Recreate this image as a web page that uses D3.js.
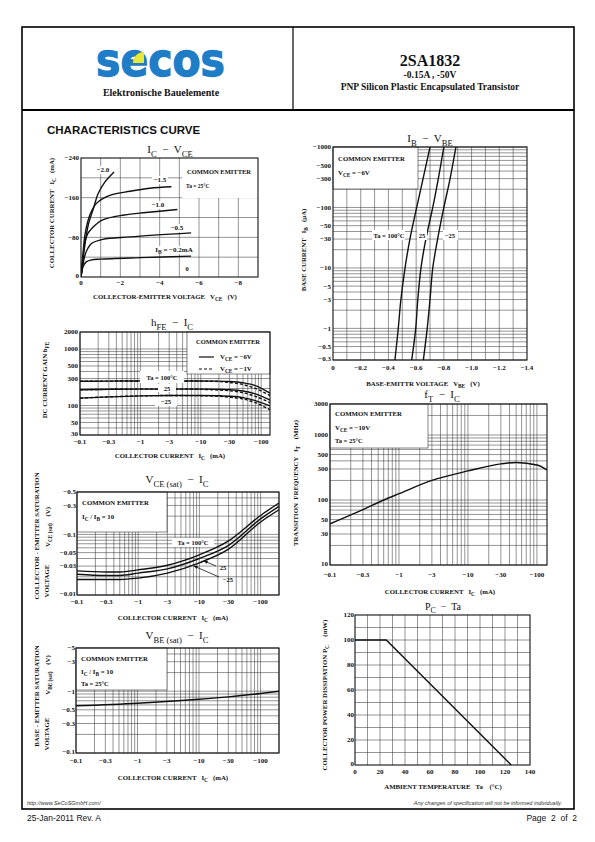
<!DOCTYPE html>
<html><head><meta charset="utf-8">
<script src="https://cdn.jsdelivr.net/npm/d3@7"></script>
<style>body{margin:0;background:#fff} svg{display:block} text{white-space:pre}</style>
</head><body>
<svg id="page" width="595" height="842"></svg>
<script>
// ---------------- DATA ----------------
// IC - VCE (magnitudes; VCE V, IC mA)
const ivLabels = ["−2.0", "−1.5", "−1.0", "−0.5", "IB"];
const ivIB20 = [[0,0],[0.1,35],[0.2,65],[0.37,105],[0.63,138],[0.88,169],[1.22,192],[1.68,212]];
const ivIB15 = [[0,0],[0.1,45],[0.2,85],[0.45,125],[0.8,149],[1.5,165],[2.5,173],[3.5,179],[4.6,182]];
const ivIB10 = [[0,0],[0.1,40],[0.2,71],[0.35,88],[0.55,98],[1.1,115],[2.2,125],[3.3,130],[4.9,136]];
const ivIB05 = [[0,0],[0.1,25],[0.2,44],[0.35,58],[0.55,68],[1.1,76],[2.5,81],[5.6,89]];
const ivIB02 = [[0,0],[0.1,20],[0.25,30],[0.5,34],[1,36],[3,39],[5.6,42]];
const ivXTicks = [0,2,4,6,8];
const ivYTicks = [0,80,160,240];

// hFE - IC
const hfeIc   = [0.1,0.3,1,3,10,20,30,50,80,140];
const hfe100a = [268,270,272,272,272,270,266,252,225,165];
const hfe100b = [268,270,272,272,270,265,255,235,200,150];
const hfe25a  = [190,193,195,195,195,193,190,180,160,125];
const hfe25b  = [190,193,195,195,193,188,182,168,145,112];
const hfem25a = [135,142,148,150,150,149,146,138,122,98];
const hfem25b = [135,142,148,150,149,145,140,130,112,84];
const hfeXTicks = [0.1,0.3,1,3,10,30,100];
const hfeYTicks = [30,50,100,300,500,1000,2000];

// VCE(sat) - IC
const vceIc   = [0.1,0.3,0.5,1,3,10,30,100,200];
const vce100  = [0.025,0.024,0.024,0.026,0.031,0.046,0.078,0.205,0.33];
const vce25   = [0.022,0.021,0.021,0.023,0.027,0.040,0.066,0.18,0.29];
const vcem25  = [0.018,0.018,0.018,0.019,0.023,0.034,0.057,0.16,0.255];
const vceYTicks = [0.01,0.03,0.05,0.1,0.3,0.5];

// VBE(sat) - IC
const vbsIc  = [0.1,1,10,30,100,200];
const vbsVal = [0.58,0.64,0.74,0.81,0.92,1.0];
const vbsYTicks = [0.1,0.3,0.5,1,3,5];

// IB - VBE
const ibLevels = [0.3,1,3,10,30,100,300,1000];
const vbe100   = [0.447,0.471,0.49,0.52,0.555,0.604,0.65,0.70];
const vbe25    = [0.568,0.597,0.612,0.635,0.67,0.72,0.76,0.80];
const vbem25   = [0.652,0.68,0.70,0.72,0.755,0.80,0.845,0.887];
const ibXTicks = [0,0.2,0.4,0.6,0.8,1.0,1.2,1.4];
const ibYTicks = [0.3,0.5,1,3,5,10,30,50,100,300,500,1000];

// fT - IC
const ftIc  = [0.1,0.3,0.6,1,3,10,30,50,100,140];
const ftVal = [43,71,100,125,200,280,360,378,345,290];
const ftYTicks = [10,30,50,100,300,500,1000,3000];

// PC - Ta
const pcTa = [0,25,125];
const pcVal = [100,100,0];
const pcXTicks = [0,20,40,60,80,100,120,140];
const pcYTicks = [0,20,40,60,80,100,120];

// ---------------- HELPERS ----------------
const svg = d3.select('#page');
const SERIF = "'Liberation Serif','Times New Roman',serif";
const SANS = "'Liberation Sans',Arial,sans-serif";
const neg = v => v === 0 ? "0" : "−" + v;

function logAll(lo, hi) {
  const out = [];
  for (let e = Math.floor(Math.log10(lo)) ; e <= Math.ceil(Math.log10(hi)); e++)
    for (let m = 1; m < 10; m++) { const v = m * Math.pow(10, e); if (v >= lo*0.999 && v <= hi*1.001) out.push(+v.toPrecision(6)); }
  return out;
}
function rich(sel, parts, fs) {
  let shift = 0;
  parts.forEach(p => {
    const s = typeof p === 'string' ? p : p[0];
    const sub = typeof p !== 'string';
    const off = sub ? fs*0.32 : 0;
    const t = sel.append('tspan').text(s).attr('dy', off - shift);
    if (sub) t.attr('font-size', fs*0.78);
    shift = off;
  });
  return sel;
}
function txt(g, x, y, parts, o = {}) {
  const fs = o.fs || 7;
  const t = g.append('text').attr('x', x).attr('y', y)
    .attr('font-family', o.ff || SERIF).attr('font-size', fs)
    .attr('font-weight', o.fw || 'bold').attr('fill', o.fill || '#111')
    .attr('text-anchor', o.anchor || 'middle');
  if (o.ls) t.attr('letter-spacing', o.ls);
  if (o.italic) t.attr('font-style', 'italic');
  if (o.rot) t.attr('transform', `rotate(-90,${x},${y})`);
  if (o.tl) t.attr('textLength', o.tl).attr('lengthAdjust', 'spacingAndGlyphs');
  rich(t, Array.isArray(parts) ? parts : [parts], fs);
  return t;
}
let clipId = 0;
function panel(P, xs, ys, xGrid, yGrid) {
  const g = svg.append('g');
  const id = 'c' + (clipId++);
  g.append('clipPath').attr('id', id).append('rect')
    .attr('x', P.l).attr('y', P.t).attr('width', P.r - P.l).attr('height', P.b - P.t);
  const grid = g.append('g').attr('stroke', '#3a3a3a').attr('stroke-width', 0.55);
  grid.selectAll(null).data(xGrid).join('line')
    .attr('x1', d => xs(d)).attr('x2', d => xs(d)).attr('y1', P.t).attr('y2', P.b);
  grid.selectAll(null).data(yGrid).join('line')
    .attr('y1', d => ys(d)).attr('y2', d => ys(d)).attr('x1', P.l).attr('x2', P.r);
  const over = g.append('g');
  const plot = g.append('g').attr('clip-path', `url(#${id})`);
  const top = g.append('g');
  top.append('rect').attr('x', P.l).attr('y', P.t).attr('width', P.r - P.l).attr('height', P.b - P.t)
    .attr('fill', 'none').attr('stroke', '#111').attr('stroke-width', 1.1);
  return { g, over, plot, top };
}
function box(g, x0, y0, x1, y1, stroke) {
  g.append('rect').attr('x', x0).attr('y', y0).attr('width', x1 - x0).attr('height', y1 - y0)
    .attr('fill', '#fff').attr('stroke', stroke ? '#333' : 'none').attr('stroke-width', 0.6);
}
function curve(g, pts, xs, ys, dash, cf) {
  g.append('path').datum(pts)
    .attr('d', d3.line().x(d => xs(d[0])).y(d => ys(d[1])).curve(cf || d3.curveMonotoneX))
    .attr('fill', 'none').attr('stroke', '#111').attr('stroke-width', 1.4)
    .attr('stroke-dasharray', dash ? '3,2' : null);
}
function xTickLabels(g, vals, xs, y, fmt) {
  vals.forEach(v => txt(g, xs(v), y, fmt(v), { fs: 7 }));
}
function yTickLabels(g, vals, ys, x, fmt) {
  vals.forEach((v, i) => txt(g, x, ys(v) + (i === 0 ? 1 : 2.4), fmt(v), { fs: 7, anchor: 'end' }));
}
const zip = (a, b) => a.map((v, i) => [v, b[i]]);

// ---------------- PAGE FRAME ----------------
svg.append('rect').attr('x', 22).attr('y', 27).attr('width', 552).attr('height', 782)
  .attr('fill', 'none').attr('stroke', '#000').attr('stroke-width', 1.6);
svg.append('line').attr('x1', 22).attr('x2', 574).attr('y1', 110).attr('y2', 110).attr('stroke', '#000').attr('stroke-width', 2);
svg.append('line').attr('x1', 293).attr('x2', 293).attr('y1', 27).attr('y2', 110).attr('stroke', '#000').attr('stroke-width', 1.2);

// logo
svg.append('text').attr('x', 96).attr('y', 75.5).attr('font-family', "'DejaVu Sans',sans-serif")
  .attr('font-weight', 'bold').attr('font-size', 46).attr('fill', '#1f7cc6')
  .attr('stroke', '#1f7cc6').attr('stroke-width', 1.3)
  .attr('textLength', 129).attr('lengthAdjust', 'spacingAndGlyphs').text('secos');
svg.append('path').attr('d', 'M133,63 A11,11 0 0 1 144,52 L144,63 Z').attr('fill', '#e8e83a');
txt(svg, 161, 95.5, 'Elektronische Bauelemente', { fs: 10, anchor: 'middle' });
txt(svg, 430, 66, '2SA1832', { fs: 16 });
txt(svg, 430, 77.5, '-0.15A , -50V', { fs: 9.5 });
txt(svg, 430, 89.5, 'PNP Silicon Plastic Encapsulated Transistor', { fs: 9.5 });
txt(svg, 47, 134, 'CHARACTERISTICS CURVE', { ff: SANS, fs: 11.5, anchor: 'start' });

// footer
txt(svg, 27, 805, 'http://www.SeCoSGmbH.com/', { ff: SANS, fs: 5.5, fw: 'normal', italic: true, anchor: 'start', fill: '#333' });
txt(svg, 562, 805, 'Any changes of specification will not be informed individually.', { ff: SANS, fs: 5.5, fw: 'normal', italic: true, anchor: 'end', fill: '#333' });
txt(svg, 27, 821, '25-Jan-2011 Rev. A', { ff: SANS, fs: 8.5, fw: 'normal', anchor: 'start' });
txt(svg, 577, 821, 'Page  2  of  2', { ff: SANS, fs: 8.5, fw: 'normal', anchor: 'end' });

// ---------------- CHART 1: IC - VCE ----------------
{
  const P = { l: 81, r: 258, t: 158, b: 277 };
  const xs = d3.scaleLinear().domain([0, 9]).range([P.l, P.r]);
  const ys = d3.scaleLinear().domain([0, 240]).range([P.b, P.t]);
  const c = panel(P, xs, ys, d3.range(1, 9), d3.range(40, 240, 40));
  box(c.over, 182, 158, 258, 198, false);
  txt(c.over, 219, 174, 'COMMON EMITTER', { fs: 6.5 });
  txt(c.over, 186, 188, 'Ta = 25°C', { fs: 5.5, anchor: 'start' });
  [ivIB20, ivIB15, ivIB10, ivIB05, ivIB02].forEach(s => curve(c.plot, s, xs, ys, false, d3.curveCatmullRom));
  const lab = (x, y, parts, w) => { box(c.top, x - w/2, y - 6, x + w/2, y + 2, false); txt(c.top, x, y, parts, { fs: 7 }); };
  lab(103, 172, ivLabels[0], 16);
  lab(160, 182, ivLabels[1], 16);
  lab(158, 207, ivLabels[2], 16);
  lab(177, 230, ivLabels[3], 16);
  lab(174, 252, ['I', ['B'], ' = −0.2mA'], 44);
  txt(c.top, 187, 271, '0', { fs: 6.5 });
  xTickLabels(svg, ivXTicks, xs, 285, neg);
  yTickLabels(svg, ivYTicks, ys, 79, neg);
  txt(svg, 170, 153, ['I', ['C'], '  −  V', ['CE']], { fs: 11, fw: 'normal' });
  txt(svg, 165, 299, ['COLLECTOR-EMITTER VOLTAGE   V', ['CE'], '   (V)'], { fs: 6.8 });
  txt(svg, 54, 213, ['COLLECTOR CURRENT   I', ['C'], '   (mA)'], { fs: 6.8, rot: true });
}

// ---------------- CHART 2: hFE - IC ----------------
{
  const P = { l: 80, r: 270, t: 332, b: 435 };
  const xs = d3.scaleLog().domain([0.1, 140]).range([P.l, P.r]);
  const ys = d3.scaleLog().domain([30, 2000]).range([P.b, P.t]);
  const c = panel(P, xs, ys, logAll(0.1, 140), logAll(30, 2000));
  box(c.over, 187, 332, 270, 374, true);
  txt(c.over, 228, 344, 'COMMON EMITTER', { fs: 6.5 });
  c.over.append('line').attr('x1', 199).attr('x2', 214).attr('y1', 357).attr('y2', 357).attr('stroke', '#111').attr('stroke-width', 1.2);
  c.over.append('line').attr('x1', 199).attr('x2', 214).attr('y1', 369).attr('y2', 369).attr('stroke', '#111').attr('stroke-width', 1.2).attr('stroke-dasharray', '3,2');
  txt(c.over, 220, 359, ['V', ['CE'], ' = −6V'], { fs: 6.8, anchor: 'start' });
  txt(c.over, 220, 371, ['V', ['CE'], ' = −1V'], { fs: 6.8, anchor: 'start' });
  const series = [[hfe100a, false], [hfe100b, true], [hfe25a, false], [hfe25b, true], [hfem25a, false], [hfem25b, true]];
  series.forEach(([v, d]) => curve(c.plot, zip(hfeIc, v), xs, ys, d));
  box(c.top, 140, 371, 184, 383, false);
  txt(c.top, 162, 380, 'Ta = 100°C', { fs: 6.5 });
  box(c.top, 158, 384, 176, 392, false);
  txt(c.top, 167, 390.5, '25', { fs: 6.5 });
  box(c.top, 155, 397, 177, 406, false);
  txt(c.top, 166, 404, '−25', { fs: 6.5 });
  xTickLabels(svg, hfeXTicks, xs, 444, neg);
  yTickLabels(svg, hfeYTicks, ys, 78, v => String(v));
  txt(svg, 172, 326, ['h', ['FE'], '  −  I', ['C']], { fs: 11, fw: 'normal' });
  txt(svg, 170, 458, ['COLLECTOR CURRENT   I', ['C'], '   (mA)'], { fs: 6.8 });
  txt(svg, 47, 380, ['DC CURRENT GAIN h', ['FE']], { fs: 6.8, rot: true });
}

// ---------------- CHART 3: VCE(sat) - IC ----------------
{
  const P = { l: 77, r: 279, t: 492, b: 595 };
  const xs = d3.scaleLog().domain([0.1, 200]).range([P.l, P.r]);
  const ys = d3.scaleLog().domain([0.01, 0.5]).range([P.b, P.t]);
  const c = panel(P, xs, ys, logAll(0.1, 200), logAll(0.01, 0.5));
  box(c.over, 77, 492, 167, 532, true);
  txt(c.over, 82, 505, 'COMMON EMITTER', { fs: 6.8, anchor: 'start' });
  txt(c.over, 82, 519, ['I', ['C'], ' / I', ['B'], ' = 10'], { fs: 6.8, anchor: 'start' });
  [vce100, vce25, vcem25].forEach(v => curve(c.plot, zip(vceIc, v), xs, ys, false));
  box(c.top, 172, 538, 214, 547, false);
  txt(c.top, 193, 545, 'Ta = 100°C', { fs: 6.5 });
  const defs = svg.append('defs');
  defs.append('marker').attr('id', 'arr').attr('viewBox', '0 0 10 10').attr('refX', 9).attr('refY', 5)
    .attr('markerWidth', 5).attr('markerHeight', 5).attr('orient', 'auto')
    .append('path').attr('d', 'M0,1 L10,5 L0,9 Z').attr('fill', '#111');
  c.top.append('line').attr('x1', 216).attr('y1', 566).attr('x2', 204).attr('y2', 561).attr('stroke', '#111').attr('stroke-width', 0.8).attr('marker-end', 'url(#arr)');
  c.top.append('line').attr('x1', 219).attr('y1', 577).attr('x2', 194).attr('y2', 566).attr('stroke', '#111').attr('stroke-width', 0.8).attr('marker-end', 'url(#arr)');
  txt(c.top, 223, 570, '25', { fs: 6.5 });
  txt(c.top, 228, 582, '−25', { fs: 6.5 });
  xTickLabels(svg, hfeXTicks, xs, 604, neg);
  yTickLabels(svg, vceYTicks, ys, 76, neg);
  txt(svg, 177, 483, ['V', ['CE (sat)'], '  −  I', ['C']], { fs: 11, fw: 'normal' });
  txt(svg, 173, 620, ['COLLECTOR CURRENT   I', ['C'], '   (mA)'], { fs: 6.8 });
  txt(svg, 39, 536, 'COLLECTOR - EMITTER SATURATION', { fs: 6.8, rot: true });
  txt(svg, 49, 581, 'VOLTAGE', { fs: 6.8, rot: true });
  txt(svg, 50, 527, ['V', ['CE (sat)'], '    (V)'], { fs: 6.8, rot: true });
}

// ---------------- CHART 4: VBE(sat) - IC ----------------
{
  const P = { l: 76, r: 279, t: 648, b: 753 };
  const xs = d3.scaleLog().domain([0.1, 200]).range([P.l, P.r]);
  const ys = d3.scaleLog().domain([0.1, 5]).range([P.b, P.t]);
  const c = panel(P, xs, ys, logAll(0.1, 200), logAll(0.1, 5));
  box(c.over, 76, 648, 167, 690, true);
  txt(c.over, 81, 661, 'COMMON EMITTER', { fs: 6.8, anchor: 'start' });
  txt(c.over, 81, 674, ['I', ['C'], ' / I', ['B'], ' = 10'], { fs: 6.8, anchor: 'start' });
  txt(c.over, 81, 686, 'Ta = 25°C', { fs: 6.5, anchor: 'start' });
  curve(c.plot, zip(vbsIc, vbsVal), xs, ys, false);
  xTickLabels(svg, hfeXTicks, xs, 763, neg);
  yTickLabels(svg, vbsYTicks, ys, 75, neg);
  txt(svg, 177, 639, ['V', ['BE (sat)'], '  −  I', ['C']], { fs: 11, fw: 'normal' });
  txt(svg, 173, 780, ['COLLECTOR CURRENT   I', ['C'], '   (mA)'], { fs: 6.8 });
  txt(svg, 39, 696, 'BASE - EMITTER SATURATION', { fs: 6.8, rot: true });
  txt(svg, 49, 734, 'VOLTAGE', { fs: 6.8, rot: true });
  txt(svg, 50, 675, ['V', ['BE (sat)'], '    (V)'], { fs: 6.8, rot: true });
}

// ---------------- CHART 5: IB - VBE ----------------
{
  const P = { l: 333, r: 527, t: 147, b: 360 };
  const xs = d3.scaleLinear().domain([0, 1.4]).range([P.l, P.r]);
  const ys = d3.scaleLog().domain([0.3, 1000]).range([P.b, P.t]);
  const c = panel(P, xs, ys, d3.range(1, 14).map(i => i / 10), logAll(0.3, 1000));
  box(c.over, 333, 147, 418, 189, true);
  txt(c.over, 338, 161, 'COMMON EMITTER', { fs: 6.8, anchor: 'start' });
  txt(c.over, 338, 175, ['V', ['CE'], ' = −6V'], { fs: 6.8, anchor: 'start' });
  [vbe100, vbe25, vbem25].forEach(v => curve(c.plot, zip(v, ibLevels), xs, ys, false, d3.curveCatmullRom));
  box(c.top, 372, 230, 405, 240, false);
  txt(c.top, 389, 238, 'Ta = 100°C', { fs: 6.5 });
  box(c.top, 417, 230, 427, 240, false);
  txt(c.top, 422, 238, '25', { fs: 6.5 });
  box(c.top, 443, 230, 458, 240, false);
  txt(c.top, 450, 238, '−25', { fs: 6.5 });
  xTickLabels(svg, ibXTicks, xs, 370, v => v === 0 ? '0' : '−' + v.toFixed(1));
  yTickLabels(svg, ibYTicks, ys, 331, neg);
  txt(svg, 430, 142, ['I', ['B'], '  −  V', ['BE']], { fs: 11, fw: 'normal' });
  txt(svg, 423, 386, ['BASE-EMITTR VOLTAGE   V', ['BE'], '   (V)'], { fs: 6.8 });
  txt(svg, 306, 250, ['BASE CURRENT   I', ['B'], '   (μA)'], { fs: 6.8, rot: true });
}

// ---------------- CHART 6: fT - IC ----------------
{
  const P = { l: 330, r: 547, t: 404, b: 565 };
  const xs = d3.scaleLog().domain([0.1, 140]).range([P.l, P.r]);
  const ys = d3.scaleLog().domain([10, 3000]).range([P.b, P.t]);
  const c = panel(P, xs, ys, logAll(0.1, 140), logAll(10, 3000));
  box(c.over, 330, 404, 428, 448, true);
  txt(c.over, 335, 416, 'COMMON EMITTER', { fs: 6.8, anchor: 'start' });
  txt(c.over, 335, 430, ['V', ['CE'], ' = −10V'], { fs: 6.8, anchor: 'start' });
  txt(c.over, 335, 443, 'Ta = 25°C', { fs: 6.5, anchor: 'start' });
  curve(c.plot, zip(ftIc, ftVal), xs, ys, false);
  xTickLabels(svg, hfeXTicks, xs, 577, neg);
  yTickLabels(svg, ftYTicks, ys, 328, v => String(v));
  txt(svg, 442, 398, ['f', ['T'], '  −  I', ['C']], { fs: 11, fw: 'normal' });
  txt(svg, 440, 594, ['COLLECTOR CURRENT   I', ['C'], '   (mA)'], { fs: 6.8 });
  txt(svg, 298, 483, ['TRANSITION  FREQUENCY   f', ['T'], '    (MHz)'], { fs: 6.8, rot: true });
}

// ---------------- CHART 7: PC - Ta ----------------
{
  const P = { l: 355, r: 530, t: 615, b: 765 };
  const xs = d3.scaleLinear().domain([0, 140]).range([P.l, P.r]);
  const ys = d3.scaleLinear().domain([0, 120]).range([P.b, P.t]);
  const c = panel(P, xs, ys, d3.range(10, 140, 10), d3.range(10, 120, 10));
  curve(c.plot, zip(pcTa, pcVal), xs, ys, false, d3.curveLinear);
  xTickLabels(svg, pcXTicks, xs, 774, v => String(v));
  yTickLabels(svg, pcYTicks, ys, 354, v => String(v));
  txt(svg, 443, 610, ['P', ['C'], '  −  Ta'], { fs: 10, fw: 'normal' });
  txt(svg, 443, 789, ['AMBIENT TEMPERATURE   Ta    (°C)'], { fs: 6.8 });
  txt(svg, 327, 695, ['COLLECTOR POWER DISSIPATION P', ['C'], '     (mW)'], { fs: 6.8, rot: true });
}
</script>
</body></html>
